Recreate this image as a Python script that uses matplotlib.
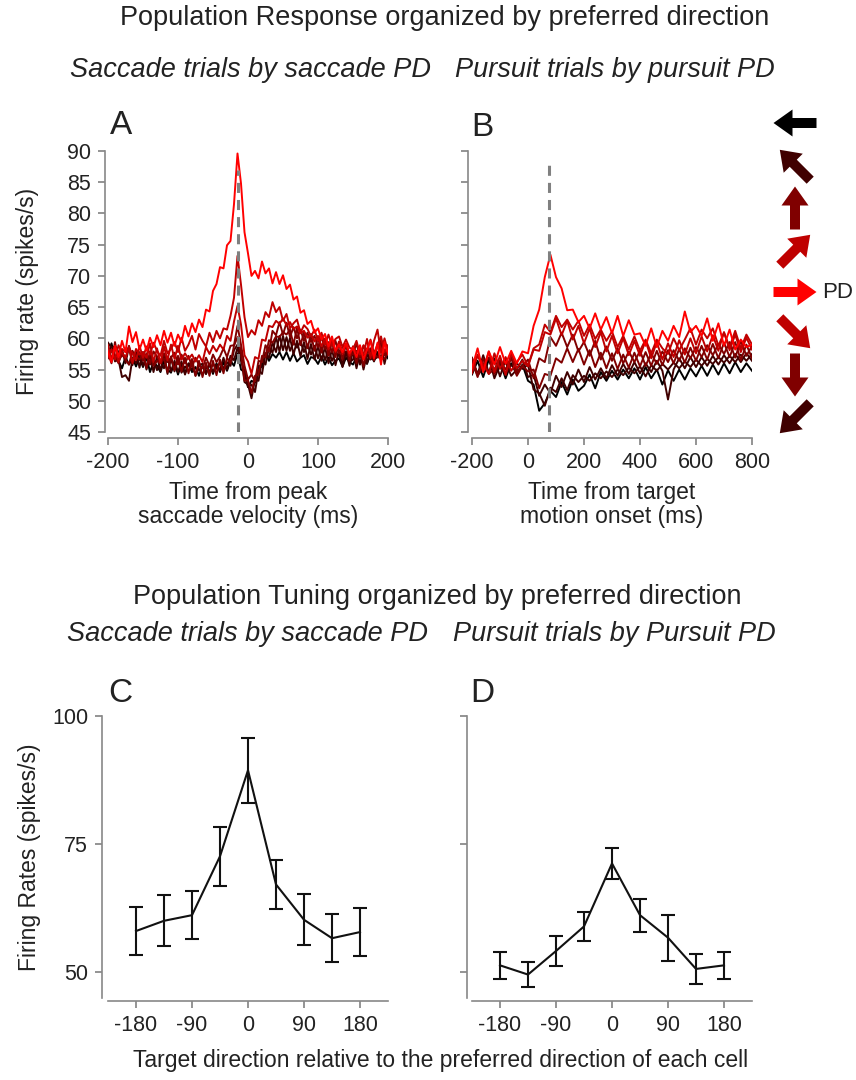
import matplotlib.pyplot as plt
from matplotlib.patches import FancyArrow
import numpy as np

plt.rcParams['font.family'] = ['Liberation Sans', 'DejaVu Sans']
plt.rcParams['axes.unicode_minus'] = False
plt.rcParams['text.color'] = '#222222'
plt.rcParams['axes.labelcolor'] = '#222222'
plt.rcParams['xtick.color'] = '#777777'
plt.rcParams['ytick.color'] = '#777777'
plt.rcParams['xtick.labelcolor'] = '#222222'
plt.rcParams['ytick.labelcolor'] = '#222222'

W, H = 856, 1080

# Direction of target motion relative to each cell's preferred direction (deg)
directions = [180, 135, -135, 90, -90, 45, -45, 0]
dir_color = {0: '#ff0000', 45: '#bf0000', -45: '#bf0000', 90: '#800000',
             -90: '#800000', 135: '#400000', -135: '#400000', 180: '#000000'}

# Saccade trials, aligned on peak saccade velocity (5 ms bins, spikes/s)
t_sacc = np.arange(-200, 201, 5)
sacc_0 = [57.9, 56.2, 58.8, 57.0, 59.6, 57.8, 61.9, 59.4, 61.0, 58.2,
          59.8, 58.0, 60.1, 58.6, 60.5, 58.9, 61.2, 59.3, 60.9, 58.8,
          60.6, 59.4, 62.0, 60.3, 62.4, 61.0, 63.0, 61.8, 64.6, 64.3,
          67.6, 68.7, 71.4, 71.2, 74.9, 75.6, 81.5, 89.6, 84.8, 77.0,
          73.6, 70.0, 70.8, 69.6, 72.3, 70.4, 71.2, 68.8, 70.6, 68.7,
          70.1, 67.9, 68.6, 66.2, 66.7, 64.1, 64.5, 62.3, 62.8, 60.9,
          61.6, 59.8, 60.7, 58.7, 60.3, 58.0, 59.0, 57.8, 59.2, 57.6,
          58.5, 57.0, 58.9, 56.6, 58.2, 59.6, 56.8, 59.3, 55.8, 59.4,
          57.5]
sacc_45 = [57.0, 58.2, 56.6, 58.9, 57.7, 56.9, 58.4, 57.6, 56.5, 58.8,
           56.9, 58.7, 57.4, 59.3, 58.0, 57.2, 59.6, 57.6, 58.3, 59.4,
           57.8, 60.1, 58.0, 59.0, 60.4, 58.2, 60.7, 59.6, 58.7, 60.9,
           59.4, 61.2, 60.0, 61.6, 61.4, 63.6, 66.5, 73.2, 68.6, 63.4,
           60.2, 61.3, 60.6, 62.9, 62.0, 64.2, 63.4, 65.8, 64.2, 65.0,
           62.8, 63.9, 61.6, 62.4, 63.0, 60.9, 62.1, 61.5, 60.3, 61.4,
           59.6, 60.9, 59.0, 60.6, 58.8, 59.9, 60.3, 58.6, 59.8, 58.5,
           58.2, 59.6, 57.4, 58.9, 58.1, 59.8, 57.6, 59.0, 60.3, 57.8,
           58.9]
sacc_m45 = [58.9, 56.6, 58.8, 56.2, 58.3, 57.8, 58.6, 56.0, 58.3, 57.4,
            57.8, 56.9, 59.2, 56.2, 58.4, 56.0, 58.7, 56.5, 59.0, 56.7,
            58.8, 56.6, 57.6, 56.7, 57.4, 56.3, 57.3, 56.2, 58.6, 57.5,
            58.8, 57.9, 59.0, 58.2, 60.4, 59.6, 62.7, 65.2, 62.2, 57.3,
            56.3, 54.3, 57.0, 56.7, 59.8, 59.6, 62.0, 61.8, 62.8, 62.3,
            63.2, 62.1, 62.6, 61.5, 61.9, 60.8, 61.2, 60.1, 60.6, 59.5,
            60.4, 58.7, 60.0, 58.2, 59.9, 57.8, 59.5, 57.5, 59.1, 57.2,
            58.7, 57.8, 58.3, 57.4, 59.9, 56.8, 59.6, 61.4, 57.6, 60.0,
            57.8]
sacc_90 = [56.8, 58.3, 57.2, 56.0, 57.9, 56.6, 55.8, 58.0, 56.9, 57.8,
           56.4, 57.6, 55.9, 57.9, 57.1, 56.0, 57.6, 56.2, 56.9, 57.7,
           55.8, 57.4, 56.0, 57.2, 55.4, 56.9, 55.7, 55.2, 56.9, 55.6,
           57.4, 56.2, 57.1, 58.4, 57.0, 58.8, 58.9, 62.0, 59.0, 55.6,
           53.4, 54.2, 53.1, 56.4, 56.2, 58.9, 57.9, 61.2, 60.5, 62.6,
           60.6, 62.5, 60.2, 61.8, 60.0, 61.4, 59.6, 60.9, 59.4, 60.4,
           58.6, 60.2, 58.3, 59.4, 57.8, 59.6, 57.6, 58.6, 58.9, 57.5,
           57.4, 59.2, 57.0, 58.8, 57.6, 58.3, 56.4, 58.9, 59.7, 57.3,
           58.6]
sacc_m90 = [57.6, 56.0, 59.4, 56.4, 57.3, 56.8, 58.8, 56.3, 57.1, 56.6,
            57.7, 55.2, 57.9, 55.6, 56.4, 56.0, 56.8, 54.6, 57.1, 54.9,
            57.2, 54.7, 56.9, 54.4, 56.7, 54.0, 56.4, 53.8, 56.1, 54.0,
            56.4, 54.1, 56.6, 54.4, 56.9, 56.0, 58.8, 60.2, 57.8, 53.2,
            53.3, 51.2, 54.0, 54.2, 57.2, 57.0, 59.7, 59.3, 60.3, 60.2,
            61.0, 60.6, 61.4, 59.0, 61.7, 58.9, 61.0, 58.4, 60.7, 58.0,
            60.2, 57.7, 59.9, 57.2, 59.5, 57.0, 59.3, 56.6, 59.1, 56.4,
            58.7, 56.0, 58.4, 55.5, 58.1, 57.4, 57.5, 57.0, 56.8, 56.7,
            57.8]
sacc_135 = [57.1, 58.2, 56.3, 56.6, 53.8, 54.1, 53.2, 56.8, 56.0, 57.6,
            55.6, 57.1, 55.8, 56.6, 54.9, 56.5, 55.2, 57.0, 54.7, 56.4,
            54.6, 56.3, 54.2, 55.9, 56.1, 54.0, 55.8, 55.9, 54.3, 55.9,
            54.6, 55.8, 54.9, 56.9, 55.0, 57.2, 56.5, 58.5, 56.4, 54.8,
            52.2, 52.6, 51.4, 54.9, 54.3, 57.6, 56.9, 59.3, 57.8, 60.4,
            58.1, 60.2, 58.0, 59.4, 58.5, 59.5, 57.8, 59.0, 57.4, 58.8,
            56.8, 58.6, 56.5, 58.2, 56.4, 57.7, 57.2, 56.0, 57.9, 56.2,
            56.6, 58.0, 55.8, 57.6, 56.0, 58.4, 56.6, 57.0, 59.4, 55.9,
            58.3]
sacc_m135 = [59.3, 58.5, 58.7, 57.8, 58.2, 56.0, 58.7, 55.7, 58.1, 55.3,
             57.8, 55.0, 57.5, 54.6, 57.1, 54.8, 57.3, 54.3, 56.8, 54.7,
             57.0, 54.5, 55.5, 54.8, 55.2, 54.4, 55.1, 54.2, 55.4, 54.7,
             55.9, 55.1, 56.1, 55.2, 56.2, 55.6, 58.1, 59.0, 57.3, 53.0,
             52.6, 50.4, 53.4, 53.2, 56.5, 55.8, 58.6, 57.7, 60.2, 57.9,
             60.4, 58.0, 60.1, 57.4, 59.6, 57.1, 59.4, 56.7, 59.1, 56.6,
             58.8, 56.4, 58.6, 56.0, 58.2, 55.7, 58.1, 55.4, 57.8, 55.6,
             57.9, 55.2, 57.7, 55.0, 57.4, 56.6, 57.0, 57.0, 57.3, 57.3,
             58.1]
sacc_180 = [57.2, 59.2, 57.0, 56.4, 55.2, 57.0, 55.8, 56.9, 55.5, 56.9,
            55.4, 57.0, 54.6, 56.2, 55.6, 54.6, 56.4, 55.0, 54.5, 56.1,
            54.2, 55.9, 54.4, 56.0, 54.6, 55.4, 54.0, 55.7, 54.3, 55.9,
            54.3, 56.0, 54.6, 56.2, 54.8, 56.4, 55.6, 57.6, 55.0, 54.6,
            52.2, 53.2, 52.9, 55.6, 55.4, 57.6, 56.4, 57.5, 56.9, 57.8,
            56.6, 57.8, 56.4, 57.6, 56.3, 56.9, 57.3, 55.9, 57.0, 56.8,
            55.9, 57.1, 55.8, 56.9, 55.7, 56.4, 56.8, 55.5, 56.9, 56.2,
            55.8, 57.0, 56.2, 57.1, 55.9, 57.5, 56.3, 57.8, 56.6, 57.9,
            56.8]

# Pursuit trials, aligned on target motion onset (20 ms bins, spikes/s)
t_purs = np.arange(-200, 801, 20)
purs_0 = [55.2, 58.4, 54.6, 57.9, 55.8, 58.6, 55.9, 58.0, 56.0, 57.9,
          57.6, 62.0, 64.6, 69.8, 73.4, 69.8, 68.0, 64.5, 64.6, 62.6,
          63.6, 61.6, 64.0, 61.4, 63.4, 60.8, 63.6, 60.4, 62.9, 60.6,
          60.8, 58.8, 61.6, 58.6, 61.2, 59.6, 62.0, 60.2, 64.3, 61.0,
          62.0, 60.4, 63.2, 59.6, 62.4, 58.8, 61.4, 58.2, 59.8, 58.6,
          59.0]
purs_45 = [55.0, 57.2, 55.8, 54.3, 57.6, 55.1, 57.0, 54.8, 56.2, 57.4,
           55.6, 58.4, 59.0, 62.2, 61.0, 63.6, 61.8, 63.0, 61.4, 62.8,
           60.4, 62.2, 59.9, 61.4, 59.6, 61.1, 58.6, 60.4, 58.2, 60.3,
           58.0, 59.8, 57.6, 59.8, 58.4, 57.5, 60.0, 58.1, 59.8, 61.6,
           59.0, 61.4, 60.0, 61.6, 58.8, 60.9, 58.6, 61.2, 58.4, 60.6,
           59.0]
purs_m45 = [54.4, 57.4, 55.0, 57.9, 54.6, 57.2, 54.2, 57.6, 55.2, 56.4,
            55.5, 58.2, 58.0, 61.0, 60.6, 63.2, 60.5, 62.8, 59.8, 62.0,
            59.2, 61.6, 58.6, 61.0, 57.9, 60.4, 57.6, 60.0, 57.3, 59.6,
            57.2, 59.6, 56.8, 59.4, 56.6, 59.2, 57.0, 59.7, 57.4, 60.0,
            57.6, 60.3, 57.9, 60.5, 58.0, 61.0, 58.1, 60.6, 57.8, 60.1,
            58.2]
purs_90 = [56.8, 54.2, 55.9, 56.9, 54.3, 56.4, 55.0, 56.9, 54.0, 55.6,
           56.6, 53.6, 56.8, 56.2, 60.2, 58.8, 60.9, 58.6, 60.6, 57.9,
           59.4, 57.2, 59.6, 56.6, 58.7, 56.4, 58.4, 56.0, 57.9, 56.2,
           58.0, 55.6, 57.6, 55.9, 57.9, 56.2, 58.1, 56.4, 58.4, 56.8,
           58.6, 57.0, 58.9, 57.3, 59.1, 57.5, 59.4, 56.9, 59.6, 57.2,
           58.8]
purs_m90 = [56.6, 53.8, 56.8, 54.3, 55.1, 56.5, 54.1, 57.0, 54.6, 55.6,
            54.7, 55.0, 52.0, 54.3, 54.0, 56.8, 56.1, 58.4, 56.2, 58.3,
            55.8, 58.1, 55.4, 57.7, 55.2, 57.6, 55.1, 57.4, 55.3, 57.7,
            55.5, 57.8, 55.6, 58.0, 55.7, 58.1, 56.0, 58.3, 56.1, 58.5,
            56.4, 58.8, 56.6, 59.1, 56.8, 59.3, 57.0, 59.4, 56.5, 59.0,
            56.8]
purs_135 = [56.6, 54.0, 55.4, 56.9, 53.6, 55.8, 56.2, 54.0, 55.0, 56.6,
            53.8, 54.2, 50.8, 52.6, 51.2, 54.0, 52.2, 54.6, 52.6, 55.0,
            53.0, 55.4, 53.4, 55.2, 53.6, 55.7, 54.0, 55.9, 54.3, 56.2,
            54.4, 56.0, 54.6, 56.4, 54.8, 50.2, 55.0, 56.8, 55.2, 57.0,
            55.4, 57.0, 55.6, 57.2, 55.8, 57.3, 56.0, 57.5, 56.2, 57.6,
            56.4]
purs_m135 = [56.9, 54.2, 57.3, 54.5, 56.8, 53.9, 56.6, 55.6, 56.0, 55.1,
             55.8, 51.8, 51.2, 49.2, 52.1, 51.4, 53.6, 51.7, 54.1, 53.0,
             54.0, 53.2, 54.4, 53.6, 54.7, 53.8, 55.0, 54.1, 55.3, 54.4,
             55.5, 53.9, 55.7, 54.8, 55.9, 55.0, 56.1, 55.2, 56.3, 55.4,
             56.6, 55.6, 56.7, 55.9, 57.0, 56.1, 57.2, 56.2, 57.4, 56.4,
             57.5]
purs_180 = [54.2, 56.4, 53.8, 56.6, 54.4, 56.2, 53.6, 56.0, 54.2, 55.8,
            53.2, 52.6, 48.4, 49.6, 51.6, 50.6, 53.0, 51.0, 53.4, 51.6,
            52.4, 54.2, 52.0, 54.6, 53.2, 54.8, 53.4, 55.0, 53.6, 55.2,
            53.4, 55.4, 53.6, 55.0, 52.6, 54.9, 53.2, 55.0, 53.4, 55.2,
            53.9, 55.6, 54.0, 55.8, 54.2, 56.0, 54.4, 56.2, 54.6, 56.0,
            54.8]

# Alignment markers (ms)
sacc_mark = -15
purs_mark = 75

# Population tuning: mean +/- SEM firing rate per target direction
tuning_dirs = [-180, -135, -90, -45, 0, 45, 90, 135, 180]
sacc_mean = [58.0, 60.0, 61.1, 72.6, 89.4, 67.1, 60.2, 56.6, 57.8]
sacc_sem = [4.7, 5.0, 4.7, 5.8, 6.3, 4.7, 5.0, 4.7, 4.7]
purs_mean = [51.3, 49.5, 54.1, 58.9, 71.2, 61.1, 56.7, 50.6, 51.3]
purs_sem = [2.7, 2.5, 3.0, 2.9, 3.0, 3.2, 4.5, 3.0, 2.7]

sacc_traces = {180: sacc_180, 135: sacc_135, -135: sacc_m135, 90: sacc_90,
               -90: sacc_m90, 45: sacc_45, -45: sacc_m45, 0: sacc_0}
purs_traces = {180: purs_180, 135: purs_135, -135: purs_m135, 90: purs_90,
               -90: purs_m90, 45: purs_45, -45: purs_m45, 0: purs_0}


def px_axes(fig, left, top, right, bottom):
    """Add axes from pixel edges (origin top-left)."""
    return fig.add_axes([left / W, 1 - bottom / H, (right - left) / W, (bottom - top) / H])


def fig_text(x, y, s, **kw):
    """Figure text placed at pixel coordinates (origin top-left)."""
    kw.setdefault('ha', 'center')
    kw.setdefault('va', 'center')
    fig.text(x / W, 1 - y / H, s, **kw)


def style_axes(ax, left_off, bottom_off):
    for side in ('top', 'right'):
        ax.spines[side].set_visible(False)
    for side in ('left', 'bottom'):
        ax.spines[side].set_color('#888888')
        ax.spines[side].set_linewidth(1.2)
    ax.spines['left'].set_position(('outward', left_off))
    ax.spines['bottom'].set_position(('outward', bottom_off))
    ax.tick_params(length=5, width=1.1, labelsize=15.5, pad=5)
    ax.patch.set_visible(False)


fig = plt.figure(figsize=(W / 100, H / 100), dpi=100)

# ---- A: saccade trials
axA = px_axes(fig, 108, 151, 388, 432)
for d in directions:
    axA.plot(t_sacc, sacc_traces[d], color=dir_color[d], lw=1.4)
axA.plot([sacc_mark, sacc_mark], [45, 87], color='#808080', lw=2.2,
         ls=(0, (3.3, 2.3)), zorder=5)
axA.set_xlim(-200, 200)
axA.set_ylim(45, 90)
axA.set_xticks([-200, -100, 0, 100, 200])
axA.set_yticks(np.arange(45, 91, 5))
style_axes(axA, 2.2, 4.3)
axA.set_ylabel('Firing rate (spikes/s)', fontsize=16.5, labelpad=20)
axA.set_xlabel('Time from peak\nsaccade velocity (ms)', fontsize=16.5, labelpad=6,
               linespacing=1.05)

# ---- B: pursuit trials
axB = px_axes(fig, 472, 151, 752, 432)
for d in directions:
    axB.plot(t_purs, purs_traces[d], color=dir_color[d], lw=1.4)
axB.plot([purs_mark, purs_mark], [45, 88], color='#808080', lw=2.2,
         ls=(0, (3.3, 2.3)), zorder=5)
axB.set_xlim(-200, 800)
axB.set_ylim(45, 90)
axB.set_xticks([-200, 0, 200, 400, 600, 800])
axB.set_yticks(np.arange(45, 91, 5))
axB.set_yticklabels([])
style_axes(axB, 2.9, 4.3)
axB.set_xlabel('Time from target\nmotion onset (ms)', fontsize=16.5, labelpad=6,
               linespacing=1.05)

# ---- direction key
axK = px_axes(fig, 760, 100, 840, 440)
axK.set_xlim(760, 840)
axK.set_ylim(440, 100)
axK.axis('off')
key_y = {180: 123, 135: 165, 90: 208, 45: 250, 0: 292, -45: 333, -90: 375, -135: 418}
for d, yc in key_y.items():
    ang = np.deg2rad(d)
    ux, uy = np.cos(ang), -np.sin(ang)
    L = 43
    axK.add_patch(FancyArrow(795 - ux * L / 2, yc - uy * L / 2, ux * L, uy * L,
                             width=10, head_width=27, head_length=19,
                             length_includes_head=True, color=dir_color[d], lw=0))
fig_text(822, 292, 'PD', fontsize=16, ha='left')

# ---- C / D: tuning curves
axC = px_axes(fig, 108, 716, 388, 997.6)
axD = px_axes(fig, 472, 716, 752, 997.6)
for ax, mean, sem in ((axC, sacc_mean, sacc_sem), (axD, purs_mean, purs_sem)):
    ax.errorbar(tuning_dirs, mean, yerr=sem, color='#111111', lw=1.5,
                elinewidth=1.5, capsize=5, capthick=1.5)
    ax.set_xlim(-225, 225)
    ax.set_ylim(45, 100)
    ax.set_xticks([-180, -90, 0, 90, 180])
    ax.set_yticks([50, 75, 100])
    ax.spines['left'].set_bounds(45, 100)
style_axes(axC, 4.3, 2.5)
style_axes(axD, 3.6, 2.5)
axD.set_yticklabels([])
axC.set_ylabel('Firing Rates (spikes/s)', fontsize=16.5, labelpad=8)

# ---- panel letters
for x, y, letter in ((110, 126, 'A'), (471, 127, 'B'), (108, 693, 'C'), (470, 693, 'D')):
    fig_text(x, y, letter, fontsize=24, ha='left')

# ---- headings
fig_text(445, 18, 'Population Response organized by preferred direction', fontsize=19.5)
fig_text(250, 70, 'Saccade trials by saccade PD', fontsize=19.5, style='italic')
fig_text(615, 70, 'Pursuit trials by pursuit PD', fontsize=19.5, style='italic')
fig_text(437, 597, 'Population Tuning organized by preferred direction', fontsize=19.5)
fig_text(248, 634, 'Saccade trials by saccade PD', fontsize=19.5, style='italic')
fig_text(614, 634, 'Pursuit trials by Pursuit PD', fontsize=19.5, style='italic')
fig_text(441, 1060, 'Target direction relative to the preferred direction of each cell',
         fontsize=16.5)

fig.savefig('out.png', dpi=100)
